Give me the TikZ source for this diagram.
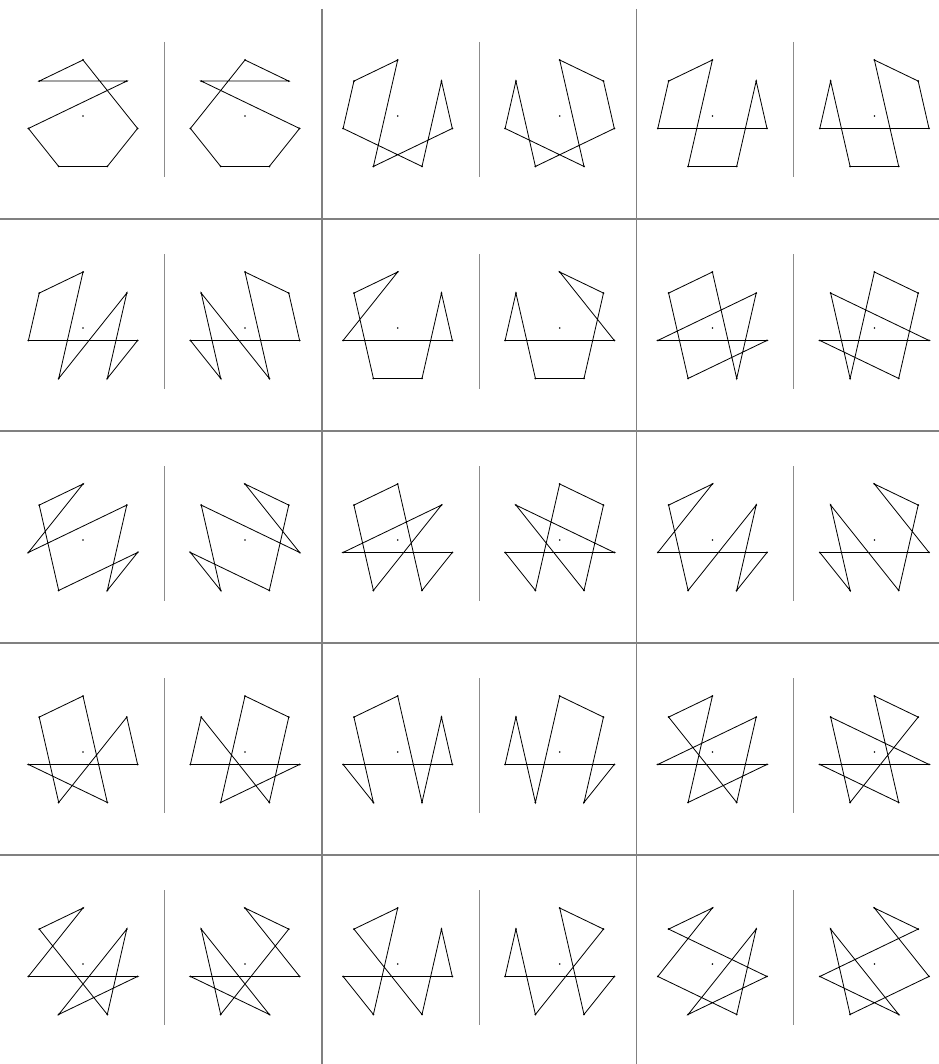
\documentclass[tikz,border=0pt]{standalone}

\newcommand{\hepta}[7]{%
  \draw[polyLine] (p#1) -- (p#2) -- (p#3) -- (p#4) -- (p#5) -- (p#6) -- (p#7) -- cycle;
  \foreach \i in {0,...,6} \fill (p\i) circle[radius=1];
  \fill (0,0) circle[radius=0.9];
}

\begin{document}
\begin{tikzpicture}[x=0.3mm,y=-0.3mm]
    % Define sizes
    \def\polyRadius{56}
    \def\colStep{314.7}
    \def\rowStep{212}

    \definecolor{gridColour}{HTML}{808080}
    \definecolor{dividerColour}{HTML}{8C8C8C}

    \tikzset{
      polyLine/.style={black, line width=0.7pt, line join=miter},
      gridLine/.style={gridColour, line width=1.6pt},
      dividerLine/.style={dividerColour, line width=0.8pt}
    }

    \useasboundingbox (0,0) rectangle (939,1064);

    % Draw grid
    \draw[gridLine] (322,9) -- (322,1064);
    \draw[gridLine] (636.5,9) -- (636.5,1064);
    \foreach \y in {219,431,643,855}
        \draw[gridLine] (0,\y) -- (939,\y);

    % Draw each pair of heptagons (left one and its mirror image)
    \foreach \row/\col/\seq in {0/0/0162345, 0/1/0356421, 0/2/0346521,
                                1/0/0364521, 1/1/0256431, 1/2/0462531,
                                2/0/0264531, 2/1/0452631, 2/2/0254631,
                                3/0/0425631, 3/1/0465231, 3/2/0352641,
                                4/0/0253641, 4/1/0325641, 4/2/0246351}{
        \pgfmathsetmacro{\cx}{83+\colStep*\col}
        \pgfmathsetmacro{\cy}{116+\rowStep*\row}

        % Left figure
        \begin{scope}[shift={(\cx,\cy)}]
            \foreach \i in {0,...,6}
                \coordinate (p\i) at ({\polyRadius*cos(90+\i*360/7)},{-\polyRadius*sin(90+\i*360/7)});
            \expandafter\hepta\seq
        \end{scope}

        % Mirror figure
        \begin{scope}[shift={(\cx+162,\cy)},xscale=-1]
            \foreach \i in {0,...,6}
                \coordinate (p\i) at ({\polyRadius*cos(90+\i*360/7)},{-\polyRadius*sin(90+\i*360/7)});
            \expandafter\hepta\seq
        \end{scope}

        % Divider
        \coordinate (dTop) at (\cx+81.5,\cy-74);
        \coordinate (dBot) at (\cx+81.5,\cy+61);
        \draw[dividerLine] (dTop) -- (dBot);
    }

\end{tikzpicture}
\end{document}
